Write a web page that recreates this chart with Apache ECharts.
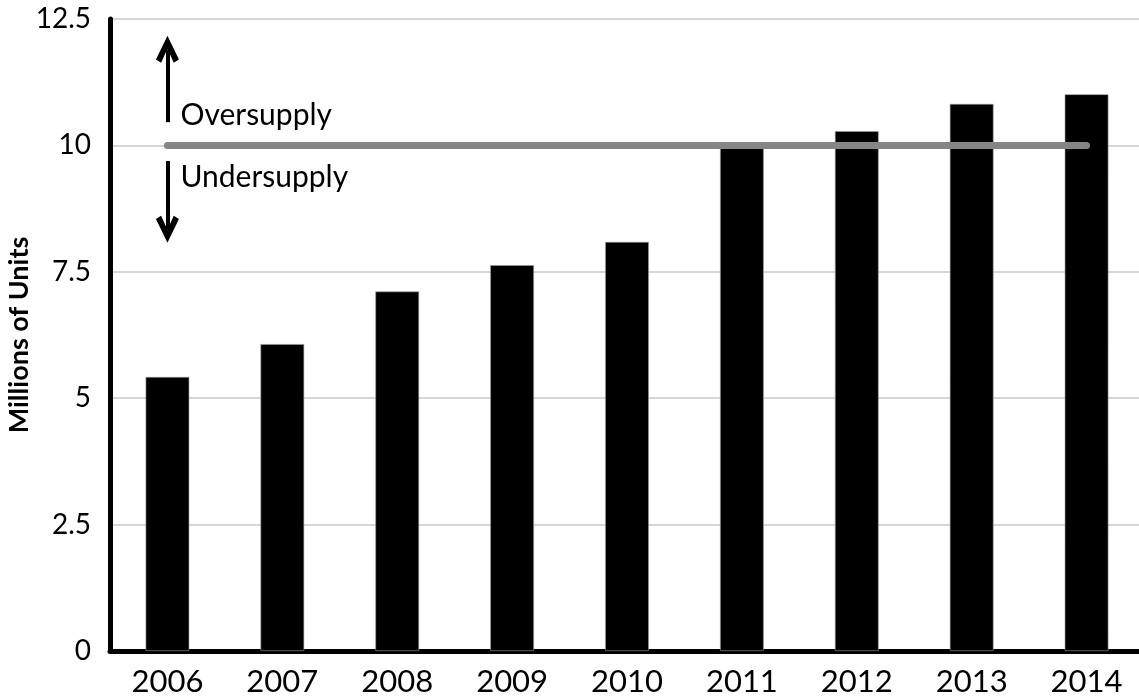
<!DOCTYPE html>
<html>
<head>
<meta charset="utf-8">
<script src="https://cdn.jsdelivr.net/npm/echarts@6/dist/echarts.min.js"></script>
<style>
html,body{margin:0;padding:0;background:#fff;}
#chart{width:1139px;height:696px;}
</style>
</head>
<body>
<div id="chart"></div>
<script>
var categories = ['2006','2007','2008','2009','2010','2011','2012','2013','2014'];
var units = [5.42, 6.07, 7.11, 7.63, 8.09, 10.0, 10.28, 10.82, 11.01];
var yTicks = [0, 2.5, 5, 7.5, 10, 12.5];
var balanceLevel = 10;
var overArrow = [10.46, 11.9];
var underArrow = [9.69, 8.34];
var notes = [
  {text: 'Oversupply', value: 10.6},
  {text: 'Undersupply', value: 9.37}
];

var FONT = 'Lato';
var chevronUp = 'path://M10,0 L20,22 L15.5,25 L10,12 L4.5,25 L0,22 Z';

var grayLine = {color: '#858585', width: 7, type: 'solid', cap: 'round'};
var arrowLine = {color: '#000', width: 4, type: 'solid', cap: 'butt'};

var chart = echarts.init(document.getElementById('chart'), null, {renderer: 'canvas'});
chart.setOption({
  animation: false,
  backgroundColor: '#fff',
  grid: {left: 110, right: -5, top: 19, bottom: 45, containLabel: false, outerBoundsMode: 'none'},
  xAxis: {
    type: 'category',
    data: categories,
    boundaryGap: true,
    axisLine: {show: true, lineStyle: {color: '#000', width: 5}},
    axisTick: {show: false},
    axisLabel: {color: '#000', fontFamily: FONT, fontSize: 31, margin: 15}
  },
  yAxis: {
    type: 'value',
    min: 0, max: 12.5, interval: 2.5,
    name: 'Millions of Units',
    nameLocation: 'middle',
    nameGap: 77,
    nameMoveOverlap: false,
    nameTextStyle: {color: '#000', fontFamily: FONT, fontSize: 27, fontWeight: 'bold'},
    axisLine: {show: true, lineStyle: {color: '#000', width: 5}},
    axisTick: {show: false},
    axisLabel: {
      color: '#000', fontFamily: FONT, fontSize: 28, margin: 19,
      formatter: function (v) { return yTicks.indexOf(v) >= 0 ? String(v) : ''; }
    },
    splitLine: {show: true, lineStyle: {color: '#c8c8c8', width: 1.5}}
  },
  series: [{
    type: 'bar',
    data: units,
    barWidth: '38%',
    itemStyle: {color: '#000', borderColor: '#9a9a9a', borderWidth: 0.6},
    z: 2,
    markLine: {
      silent: true,
      z: 5,
      label: {show: false},
      lineStyle: {type: 'solid'},
      emphasis: {disabled: true},
      data: [
        [
          {coord: [categories[0], balanceLevel], symbol: 'none', lineStyle: grayLine},
          {coord: [categories[categories.length - 1], balanceLevel], symbol: 'none', lineStyle: grayLine}
        ],
        [
          {coord: [categories[0], overArrow[0]], symbol: 'none', lineStyle: arrowLine},
          {coord: [categories[0], overArrow[1]], symbol: chevronUp, symbolSize: [23, 27], lineStyle: arrowLine, itemStyle: {color: '#000'}}
        ],
        [
          {coord: [categories[0], underArrow[0]], symbol: 'none', lineStyle: arrowLine},
          {coord: [categories[0], underArrow[1]], symbol: chevronUp, symbolSize: [23, 27], lineStyle: arrowLine, itemStyle: {color: '#000'}}
        ]
      ]
    },
    markPoint: {
      silent: true,
      symbol: 'circle',
      symbolSize: 0,
      data: notes.map(function (n) {
        return {
          coord: [categories[0], n.value],
          itemStyle: {color: 'transparent'},
          label: {
            show: true, formatter: n.text, position: 'right', distance: 0, offset: [13, 0],
            color: '#000', fontFamily: FONT, fontSize: 30
          }
        };
      })
    }
  }]
});
</script>
</body>
</html>
